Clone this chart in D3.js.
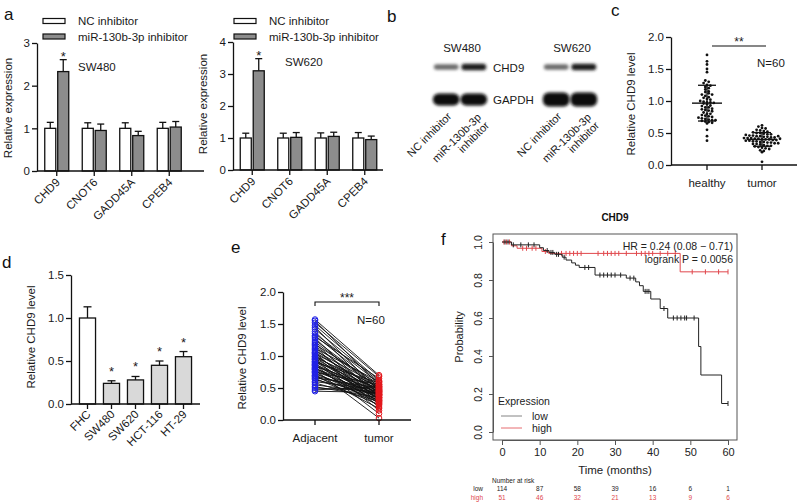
<!DOCTYPE html>
<html><head><meta charset="utf-8">
<script src="https://cdn.jsdelivr.net/npm/d3@7"></script>
<style>
body{margin:0;background:#fff;}
svg{font-family:"Liberation Sans",Arial,sans-serif;}
</style></head><body>
<svg id="c" width="800" height="503"></svg>
<script>
// ---------- DATA ----------
const genes = ["CHD9","CNOT6","GADD45A","CPEB4"];
const seriesA = ["NC inhibitor","miR-130b-3p inhibitor"];
const sw480NC = [1.0,1.0,1.0,1.0];
const sw480NCErr = [0.14,0.13,0.13,0.14];
const sw480Inh = [2.33,0.95,0.83,1.03];
const sw480InhErr = [0.28,0.15,0.10,0.13];
const sw620NC = [1.0,1.0,1.0,1.0];
const sw620NCErr = [0.15,0.15,0.16,0.17];
const sw620Inh = [3.1,1.02,1.05,0.95];
const sw620InhErr = [0.38,0.15,0.13,0.11];
const sigA = ["*","","",""];

const blotCells = ["SW480","SW620"];
const blotLanes = ["NC inhibitor","miR-130b-3p inhibitor"];
const chd9Intensity = [0.6,0.92];
const gapdhIntensity = [1.0,1.0];

const groupsC = ["healthy","tumor"];
const healthy = [1.72,1.62,1.57,1.5,1.45,1.32,1.3,1.28,1.25,1.24,1.22,1.2,1.18,1.15,1.14,1.12,1.1,1.08,1.06,1.05,1.03,1.02,1.0,0.99,0.98,0.98,0.97,0.96,0.95,0.93,0.92,0.9,0.9,0.88,0.87,0.86,0.85,0.84,0.82,0.8,0.8,0.78,0.77,0.76,0.75,0.74,0.73,0.72,0.71,0.7,0.7,0.69,0.68,0.67,0.66,0.65,0.55,0.45,0.38,1.1];
const tumorC = [0.62,0.6,0.58,0.57,0.55,0.54,0.53,0.52,0.51,0.5,0.5,0.49,0.48,0.48,0.47,0.46,0.46,0.45,0.45,0.44,0.44,0.43,0.43,0.42,0.42,0.42,0.41,0.41,0.40,0.40,0.40,0.39,0.39,0.38,0.38,0.37,0.37,0.36,0.36,0.35,0.35,0.34,0.34,0.33,0.33,0.32,0.31,0.30,0.30,0.29,0.28,0.27,0.26,0.25,0.23,0.22,0.20,0.45,0.41,0.05];

const cellLines = ["FHC","SW480","SW620","HCT-116","HT-29"];
const cellVals = [1.0,0.24,0.28,0.45,0.55];
const cellErr = [0.13,0.03,0.04,0.05,0.06];
const cellSig = ["","*","*","*","*"];

const groupsE = ["Adjacent","tumor"];
const adjacentE = [1.57,1.55,1.52,1.48,1.45,1.42,1.38,1.35,1.32,1.3,1.28,1.25,1.22,1.2,1.18,1.16,1.14,1.12,1.1,1.08,1.06,1.05,1.04,1.02,1.0,0.99,0.98,0.96,0.95,0.94,0.92,0.91,0.9,0.88,0.87,0.86,0.85,0.84,0.82,0.81,0.8,0.79,0.78,0.76,0.75,0.74,0.72,0.7,0.69,0.68,0.66,0.65,0.63,0.6,0.58,0.55,0.52,0.5,0.47,0.45];
const tumorE = [0.7,0.55,0.68,0.62,0.45,0.6,0.4,0.58,0.52,0.65,0.35,0.5,0.48,0.3,0.56,0.42,0.25,0.6,0.38,0.54,0.46,0.2,0.5,0.33,0.44,0.28,0.52,0.4,0.15,0.36,0.48,0.32,0.58,0.26,0.42,0.1,0.38,0.5,0.22,0.34,0.46,0.3,0.03,0.4,0.55,0.27,0.36,0.18,0.44,0.31,0.5,0.24,0.39,0.47,0.29,0.42,0.35,0.45,0.52,0.43];

const lowTimes = [0,2.5,10,11,12.5,14,16,17,18.5,19.5,20.5,24.7,33,35.5,36.5,37.5,39.5,42,44,52.2,52.8,58.3];
const lowSurv  = [1,0.985,0.97,0.955,0.945,0.935,0.92,0.905,0.89,0.878,0.866,0.826,0.81,0.79,0.77,0.74,0.70,0.65,0.60,0.45,0.30,0.15];
const lowCensor = [0.8,1.6,3,5,7,8.5,12,13,13.5,14.5,15,16.5,22,23,26,27,28,29,30,31.5,34,35,38,38.5,39,43,45.5,46.5,47.5,48.5,49,51,60];
const highTimes = [0,2.5,4,10.6,12.4,47.3];
const highSurv  = [1,0.98,0.967,0.95,0.94,0.843];
const highCensor = [0.5,1.2,2,5.5,6.5,8,9,11.5,15.8,17,18,19,20,21,25.5,27,28,29,30,31,33,35.7,37,38,39,40,42,44,46,50.5,54,57.5,60];
const riskTimes = [0,10,20,30,40,50,60];
const riskLow = [114,87,58,39,16,6,1];
const riskHigh = [51,46,32,21,13,9,6];

// ---------- HELPERS ----------
const FONT = '"Liberation Sans", Arial, sans-serif';
const svg = d3.select("#c");

function yAxis(scale, x, ticks, fmt, fs) {
  const ax = svg.append("g").attr("transform", `translate(${x},0)`)
    .call(d3.axisLeft(scale).tickValues(ticks).tickFormat(fmt).tickSize(5).tickSizeOuter(0));
  ax.attr("font-family", FONT).attr("font-size", fs || 11.5);
  ax.select(".domain").attr("stroke-width", 1.3).attr("stroke", "#111");
  ax.selectAll(".tick line").attr("stroke-width", 1.3).attr("stroke", "#111");
  ax.selectAll(".tick text").attr("fill", "#1a1a1a").attr("x", -7);
  return ax;
}
function hline(x1, x2, y, w) {
  svg.append("line").attr("x1", x1).attr("x2", x2).attr("y1", y).attr("y2", y)
    .attr("stroke", "#111").attr("stroke-width", w || 1.3);
}
function xTicks(xs, y0) {
  xs.forEach(x => svg.append("line").attr("x1", x).attr("x2", x).attr("y1", y0).attr("y2", y0 + 5)
    .attr("stroke", "#111").attr("stroke-width", 1.3));
}
function rotLabel(text, x, y, fs) {
  svg.append("text").attr("transform", `translate(${x},${y}) rotate(-45)`)
    .attr("text-anchor", "end").attr("font-size", fs || 11.5).attr("fill", "#1a1a1a").text(text);
}
function yTitle(text, x, y, fs) {
  svg.append("text").attr("transform", `translate(${x},${y}) rotate(-90)`)
    .attr("text-anchor", "middle").attr("font-size", fs || 11.5).attr("fill", "#1a1a1a").text(text);
}
function txt(t, x, y, fs, anchor, fill, weight) {
  return svg.append("text").attr("x", x).attr("y", y).attr("font-size", fs)
    .attr("text-anchor", anchor || "start").attr("fill", fill || "#1a1a1a")
    .attr("font-weight", weight || "normal").text(t);
}
function errBar(cx, yTop, yBase, cap) {
  svg.append("line").attr("x1", cx).attr("x2", cx).attr("y1", yBase).attr("y2", yTop)
    .attr("stroke", "#111").attr("stroke-width", 1.3);
  svg.append("line").attr("x1", cx - cap).attr("x2", cx + cap).attr("y1", yTop).attr("y2", yTop)
    .attr("stroke", "#111").attr("stroke-width", 1.3);
}

// ---------- PANEL A ----------
function panelA(cfg) {
  const y = d3.scaleLinear().domain([0, cfg.max]).range([cfg.y0, cfg.yTop]);
  const x = d3.scaleBand().domain(genes).range(cfg.xr).padding(0);
  const inner = d3.scaleBand().domain(seriesA).range([-12, 12]).paddingInner(0.15);
  const fills = ["#ffffff", "#8c8c8c"];
  const vals = [cfg.nc, cfg.inh], errs = [cfg.ncErr, cfg.inhErr];
  genes.forEach((g, i) => {
    const c = x(g) + x.bandwidth() / 2;
    seriesA.forEach((s, j) => {
      const v = vals[j][i], e = errs[j][i];
      const bx = c + inner(s);
      errBar(bx + inner.bandwidth() / 2, y(v + e), y(v), 3.5);
      svg.append("rect").attr("x", bx).attr("y", y(v)).attr("width", inner.bandwidth())
        .attr("height", y(0) - y(v)).attr("fill", fills[j]).attr("stroke", "#111").attr("stroke-width", 1.3);
      if (j === 1 && sigA[i]) txt(sigA[i], bx + inner.bandwidth() / 2, y(v + e) + 1, 13, "middle");
    });
  });
  yAxis(y, cfg.axX, d3.range(0, cfg.max + 1), d3.format("d"));
  hline(cfg.axX, cfg.xEnd, cfg.y0);
  xTicks(genes.map(g => x(g) + x.bandwidth() / 2), cfg.y0);
  genes.forEach(g => rotLabel(g, x(g) + x.bandwidth() / 2 + 4, cfg.y0 + 12));
  yTitle("Relative expression", cfg.titleX, cfg.titleY);
  seriesA.forEach((s, j) => {
    svg.append("rect").attr("x", cfg.legX).attr("y", cfg.legY + j * 15.5).attr("width", 22).attr("height", 5)
      .attr("fill", fills[j]).attr("stroke", "#111").attr("stroke-width", 1.2);
    txt(s, cfg.legX + 35, cfg.legY + 6.5 + j * 15.5, 11.5);
  });
  txt(cfg.cell, cfg.cellX, cfg.cellY, 11.5);
}
panelA({max: 3, y0: 171, yTop: 43, xr: [38, 188], axX: 37, xEnd: 204,
  nc: sw480NC, ncErr: sw480NCErr, inh: sw480Inh, inhErr: sw480InhErr,
  titleX: 12, titleY: 108, legX: 43, legY: 18.5, cell: "SW480", cellX: 78, cellY: 71});
panelA({max: 4, y0: 170, yTop: 42, xr: [233.5, 383.5], axX: 233, xEnd: 383,
  nc: sw620NC, ncErr: sw620NCErr, inh: sw620Inh, inhErr: sw620InhErr,
  titleX: 207, titleY: 104, legX: 234, legY: 18.5, cell: "SW620", cellX: 285, cellY: 66});

// ---------- PANEL B (western blot) ----------
const defs = svg.append("defs");
defs.append("filter").attr("id", "blur").attr("x", "-30%").attr("y", "-60%").attr("width", "160%").attr("height", "220%")
  .append("feGaussianBlur").attr("stdDeviation", 1.4);
const laneX = d3.scaleBand().domain(blotLanes).range([0, 56]).padding(0.03);
const gray = d3.scaleLinear().domain([0, 1]).range(["#ffffff", "#0a0a0a"]);
blotCells.forEach((cell, ci) => {
  const base = ci === 0 ? 432 : 542;
  txt(cell, base + 30, 52, 11.5, "middle");
  blotLanes.forEach((lane, li) => {
    const lx = base + laneX(lane);
    const h1 = 3 + chd9Intensity[li] * 4;
    svg.append("rect").attr("x", lx + 1).attr("y", 67 - h1 / 2).attr("width", laneX.bandwidth() - 2)
      .attr("height", h1).attr("rx", 3).attr("fill", gray(chd9Intensity[li])).attr("filter", "url(#blur)");
    const h2 = ci === 0 ? 12 : 14;
    svg.append("rect").attr("x", lx).attr("y", 99.5 - h2 / 2).attr("width", laneX.bandwidth())
      .attr("height", h2).attr("rx", 6).attr("fill", gray(gapdhIntensity[li])).attr("filter", "url(#blur)");
    const cx = lx + laneX.bandwidth() / 2;
    if (li === 0) {
      rotLabel(lane, cx + 6, 117, 11);
    } else {
      const t = svg.append("text").attr("transform", `translate(${cx + 8},${118}) rotate(-45)`)
        .attr("text-anchor", "end").attr("font-size", 11).attr("fill", "#1a1a1a");
      t.append("tspan").attr("x", 0).attr("dy", 0).text("miR-130b-3p");
      t.append("tspan").attr("x", 0).attr("dy", "1.05em").text("inhibitor");
    }
  });
});
txt("CHD9", 493, 71.5, 11.5);
txt("GAPDH", 493, 103.5, 11.5);

// ---------- PANEL C ----------
(function () {
  const y = d3.scaleLinear().domain([0, 2]).range([165, 37]);
  const x = d3.scalePoint().domain(groupsC).range([707, 762]);
  const sets = [healthy, tumorC];
  const spreads = [3.4, 3.6];
  sets.forEach((vals, gi) => {
    const cx = x(groupsC[gi]);
    const bins = d3.group(vals.map((v, i) => ({v, i})), d => Math.round(d.v / 0.045));
    bins.forEach(arr => {
      const n = arr.length;
      arr.forEach((d, k) => {
        const off = (k - (n - 1) / 2) * spreads[gi];
        svg.append("circle").attr("cx", cx + off).attr("cy", y(d.v)).attr("r", 1.4).attr("fill", "#111");
      });
    });
    const m = d3.mean(vals), sd = d3.deviation(vals);
    hline(cx - 15, cx + 15, y(m), 1.4);
    hline(cx - 9, cx + 9, y(m + sd), 1.3);
    hline(cx - 9, cx + 9, y(m - sd), 1.3);
    svg.append("line").attr("x1", cx).attr("x2", cx).attr("y1", y(m + sd)).attr("y2", y(m - sd))
      .attr("stroke", "#111").attr("stroke-width", 1.3);
  });
  yAxis(y, 671, [0, 0.5, 1, 1.5, 2], d3.format(".1f"), 11.5);
  hline(671, 797, 165);
  xTicks(groupsC.map(g => x(g)), 165);
  groupsC.forEach(g => txt(g, x(g), 187, 11.5, "middle"));
  yTitle("Relative CHD9 level", 635, 104, 11.5);
  hline(712, 766, 46, 1.2);
  txt("**", 739, 46, 12, "middle");
  txt("N=60", 757, 67, 11.5);
})();

// ---------- PANEL D ----------
(function () {
  const y = d3.scaleLinear().domain([0, 1.5]).range([404, 275]);
  const x = d3.scaleBand().domain(cellLines).range([75.5, 195.5]).paddingInner(0.33).paddingOuter(0.165);
  cellLines.forEach((c, i) => {
    const bx = x(c), bw = x.bandwidth(), v = cellVals[i], e = cellErr[i];
    errBar(bx + bw / 2, y(v + e), y(v), 4);
    svg.append("rect").attr("x", bx).attr("y", y(v)).attr("width", bw).attr("height", y(0) - y(v))
      .attr("fill", i === 0 ? "#ffffff" : "#d9d9d9").attr("stroke", "#111").attr("stroke-width", 1.3);
    if (cellSig[i]) txt(cellSig[i], bx + bw / 2, y(v + e) - 5, 13, "middle");
  });
  yAxis(y, 71, [0, 0.5, 1, 1.5], d3.format(".1f"), 11.5);
  hline(71, 200, 404);
  xTicks(cellLines.map(c => x(c) + x.bandwidth() / 2), 404);
  cellLines.forEach(c => rotLabel(c, x(c) + x.bandwidth() / 2 + 4, 415));
  yTitle("Relative CHD9 level", 35, 337, 11.5);
})();

// ---------- PANEL E ----------
(function () {
  const y = d3.scaleLinear().domain([0, 2]).range([420, 292]);
  const x = d3.scalePoint().domain(groupsE).range([315, 379]);
  adjacentE.forEach((a, i) => {
    svg.append("line").attr("x1", x("Adjacent")).attr("y1", y(a)).attr("x2", x("tumor")).attr("y2", y(tumorE[i]))
      .attr("stroke", "#111").attr("stroke-width", 0.9);
  });
  adjacentE.forEach(a => svg.append("circle").attr("cx", x("Adjacent")).attr("cy", y(a)).attr("r", 2.8)
    .attr("fill", "none").attr("stroke", "#1f1fe6").attr("stroke-width", 1));
  tumorE.forEach(t => svg.append("circle").attr("cx", x("tumor")).attr("cy", y(t)).attr("r", 2.8)
    .attr("fill", "none").attr("stroke", "#e3171c").attr("stroke-width", 1));
  yAxis(y, 283, [0, 0.5, 1, 1.5, 2], d3.format(".1f"), 11.5);
  hline(283, 411, 420);
  xTicks(groupsE.map(g => x(g)), 420);
  groupsE.forEach(g => txt(g, x(g), 442, 11.5, "middle"));
  yTitle("Relative CHD9 level", 246, 358, 11.5);
  svg.append("path").attr("d", `M${x("Adjacent")},306V302H${x("tumor")}V306`).attr("fill", "none")
    .attr("stroke", "#111").attr("stroke-width", 1.1);
  txt("***", 347, 302, 12, "middle");
  txt("N=60", 357, 324, 11.5);
})();

// ---------- PANEL F (Kaplan-Meier) ----------
(function () {
  const x = d3.scaleLinear().domain([0, 60]).range([502, 728]);
  const y = d3.scaleLinear().domain([0, 1]).range([432, 242]);
  svg.append("rect").attr("x", 493).attr("y", 234).attr("width", 244).attr("height", 206)
    .attr("fill", "none").attr("stroke", "#555").attr("stroke-width", 1);
  const line = d3.line().x(d => x(d[0])).y(d => y(d[1])).curve(d3.curveStepAfter);
  function curve(times, surv, censor, color) {
    const pts = times.map((t, i) => [t, surv[i]]);
    pts.push([60, surv[surv.length - 1]]);
    svg.append("path").attr("d", line(pts)).attr("fill", "none").attr("stroke", color).attr("stroke-width", 1);
    const sAt = t => { let s = 1; times.forEach((tt, i) => { if (tt <= t) s = surv[i]; }); return s; };
    censor.forEach(t => {
      svg.append("line").attr("x1", x(t)).attr("x2", x(t)).attr("y1", y(sAt(t)) - 2.5).attr("y2", y(sAt(t)) + 2.5)
        .attr("stroke", color).attr("stroke-width", 1);
    });
  }
  curve(highTimes, highSurv, highCensor, "#e0474c");
  curve(lowTimes, lowSurv, lowCensor, "#222");
  const ax = svg.append("g").attr("transform", "translate(0,440)")
    .call(d3.axisBottom(x).tickValues(riskTimes).tickSize(5).tickSizeOuter(0));
  ax.attr("font-family", FONT).attr("font-size", 11);
  ax.select(".domain").attr("stroke", "#555");
  ax.selectAll(".tick line").attr("stroke", "#555");
  ax.selectAll(".tick text").attr("fill", "#222").attr("y", 8);
  const ay = svg.append("g").attr("transform", "translate(493,0)")
    .call(d3.axisLeft(y).tickValues([0, 0.2, 0.4, 0.6, 0.8, 1]).tickFormat(d3.format(".1f")).tickSize(4).tickSizeOuter(0));
  ay.attr("font-family", FONT).attr("font-size", 10.5);
  ay.select(".domain").attr("stroke", "#555");
  ay.selectAll(".tick line").attr("stroke", "#555");
  ay.selectAll(".tick text").attr("fill", "#222").attr("x", 0).attr("dy", 0)
    .attr("text-anchor", "middle").attr("transform", "translate(-11,0) rotate(-90)");
  yTitle("Probability", 463, 337, 11);
  txt("Time (months)", 615, 474, 11.5, "middle", "#222");
  txt("CHD9", 615, 221, 10, "middle", "#111", "bold");
  txt("HR = 0.24 (0.08 \u2212 0.71)", 733, 250, 10.5, "end", "#222");
  txt("logrank P = 0.0056", 733, 263, 10.5, "end", "#222");
  txt("Expression", 498, 405, 10.5, "start", "#222");
  [["low", "#666"], ["high", "#e0474c"]].forEach((d, i) => {
    svg.append("line").attr("x1", 501).attr("x2", 522).attr("y1", 416 + i * 12).attr("y2", 416 + i * 12)
      .attr("stroke", d[1]).attr("stroke-width", 0.8);
    txt(d[0], 532, 420 + i * 12, 10.5, "start", "#222");
  });
  txt("Number at risk", 492, 483, 6.5, "start", "#222");
  txt("low", 483, 491, 6.5, "end", "#222");
  txt("high", 483, 500, 6.5, "end", "#e0474c");
  riskTimes.forEach((t, i) => {
    txt(riskLow[i], x(t), 491, 6.5, "middle", "#222");
    txt(riskHigh[i], x(t), 500, 6.5, "middle", "#e0474c");
  });
})();

// ---------- PANEL LABELS ----------
[["a", 4, 20], ["b", 387, 22], ["c", 611, 16], ["d", 2, 268], ["e", 231, 253], ["f", 441, 245]]
  .forEach(d => txt(d[0], d[1], d[2], 17, "start", "#111"));
</script>
</body></html>
